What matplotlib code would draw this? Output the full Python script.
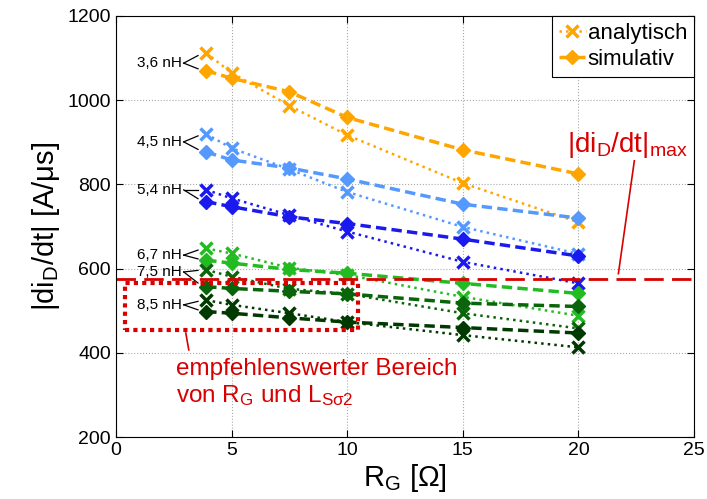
import matplotlib
matplotlib.use('Agg')
import matplotlib.pyplot as plt
from matplotlib.patches import Rectangle

plt.rcParams['font.family'] = ['Liberation Sans', 'DejaVu Sans']
plt.rcParams['mathtext.fontset'] = 'custom'
plt.rcParams['mathtext.rm'] = 'Liberation Sans'
plt.rcParams['mathtext.it'] = 'Liberation Sans:italic'

r_g = [3.9, 5, 7.5, 10, 15, 20]
inductances = ['3,6 nH', '4,5 nH', '5,4 nH', '6,7 nH', '7,5 nH', '8,5 nH']
label_y = [1088, 901, 787, 632, 592, 514]
analytisch = [
    [1112, 1065, 987, 917, 803, 710],
    [920, 886, 836, 782, 699, 635],
    [787, 767, 727, 688, 616, 565],
    [648, 636, 602, 585, 533, 488],
    [597, 581, 552, 540, 494, 458],
    [525, 514, 494, 473, 442, 413],
]
simulativ = [
    [1070, 1052, 1020, 959, 882, 825],
    [877, 858, 839, 813, 753, 720],
    [759, 747, 723, 707, 670, 630],
    [620, 613, 598, 589, 565, 541],
    [557, 553, 546, 540, 518, 510],
    [498, 494, 483, 473, 460, 447],
]
colors = ['#ffa500', '#5599ff', '#1a1aee', '#22bb22', '#0a640a', '#003a00']
di_max = 575
red = '#d80000'

fig = plt.figure(figsize=(7.07, 4.99), dpi=100)
ax = fig.add_axes([0.164, 0.1242, 0.8176, 0.8438])

handles = []
for ana, sim, c in zip(analytisch, simulativ, colors):
    h1, = ax.plot(r_g, ana, ls=':', lw=1.8, color=c, marker='x', ms=9, mew=2.5)
    h2, = ax.plot(r_g, sim, ls=(0, (3, 1.5)), lw=2.5, color=c, marker='D', ms=7.5)
    handles.append((h1, h2))

# labels with "<" leaders pointing to first points
for name, y, ana, sim in zip(inductances, label_y, analytisch, simulativ):
    ax.text(2.86, y, name, ha='right', va='center', fontsize=11)
    for yp in (ana[0], sim[0]):
        ax.plot([2.93, 3.55], [y, y + 0.75 * (yp - y)], color='black', lw=0.9)

ax.axhline(di_max, color=red, ls=(0, (7, 3)), lw=2)
ax.add_patch(Rectangle((0.4, 455), 10.05, 110, fill=False, ec=red, ls=(0, (1, 1)), lw=3, zorder=5))

ax.text(22.1, 893, r'$\mathregular{|di_D/dt|_{max}}$', color=red, fontsize=20,
        ha='center', va='center')
ax.plot([22.42, 21.73], [856, 588], color=red, lw=1.2)

ax.text(2.6, 388, 'empfehlenswerter Bereich\nvon $\\mathregular{R_G}$ und $\\mathregular{L_{Sσ2}}$',
        color=red, fontsize=17.5, ha='left', va='top', linespacing=1.15)
ax.plot([3.02, 3.15], [447, 407], color=red, lw=1.2)

ax.set_xlim(0, 25)
ax.set_ylim(200, 1200)
ax.set_xticks([0, 5, 10, 15, 20, 25])
ax.set_yticks([200, 400, 600, 800, 1000, 1200])
ax.grid(True, ls=':', color='#aaaaaa', lw=0.8)
ax.tick_params(direction='in', top=True, right=True, labelsize=14, length=5)
ax.set_xlabel(r'$\mathregular{R_G}$ [Ω]', fontsize=21, labelpad=2)
ax.set_ylabel(r'$\mathregular{|di_D/dt|}$ [A/μs]', fontsize=21, labelpad=4)

leg = ax.legend(handles[0], ['analytisch', 'simulativ'], loc='upper right', fontsize=16,
                handlelength=1.2, handletextpad=0.1, borderpad=0.3, labelspacing=0.25,
                fancybox=False, edgecolor='black', framealpha=1, borderaxespad=0)
leg.get_frame().set_linewidth(0.8)

fig.savefig('out.png', dpi=100)
